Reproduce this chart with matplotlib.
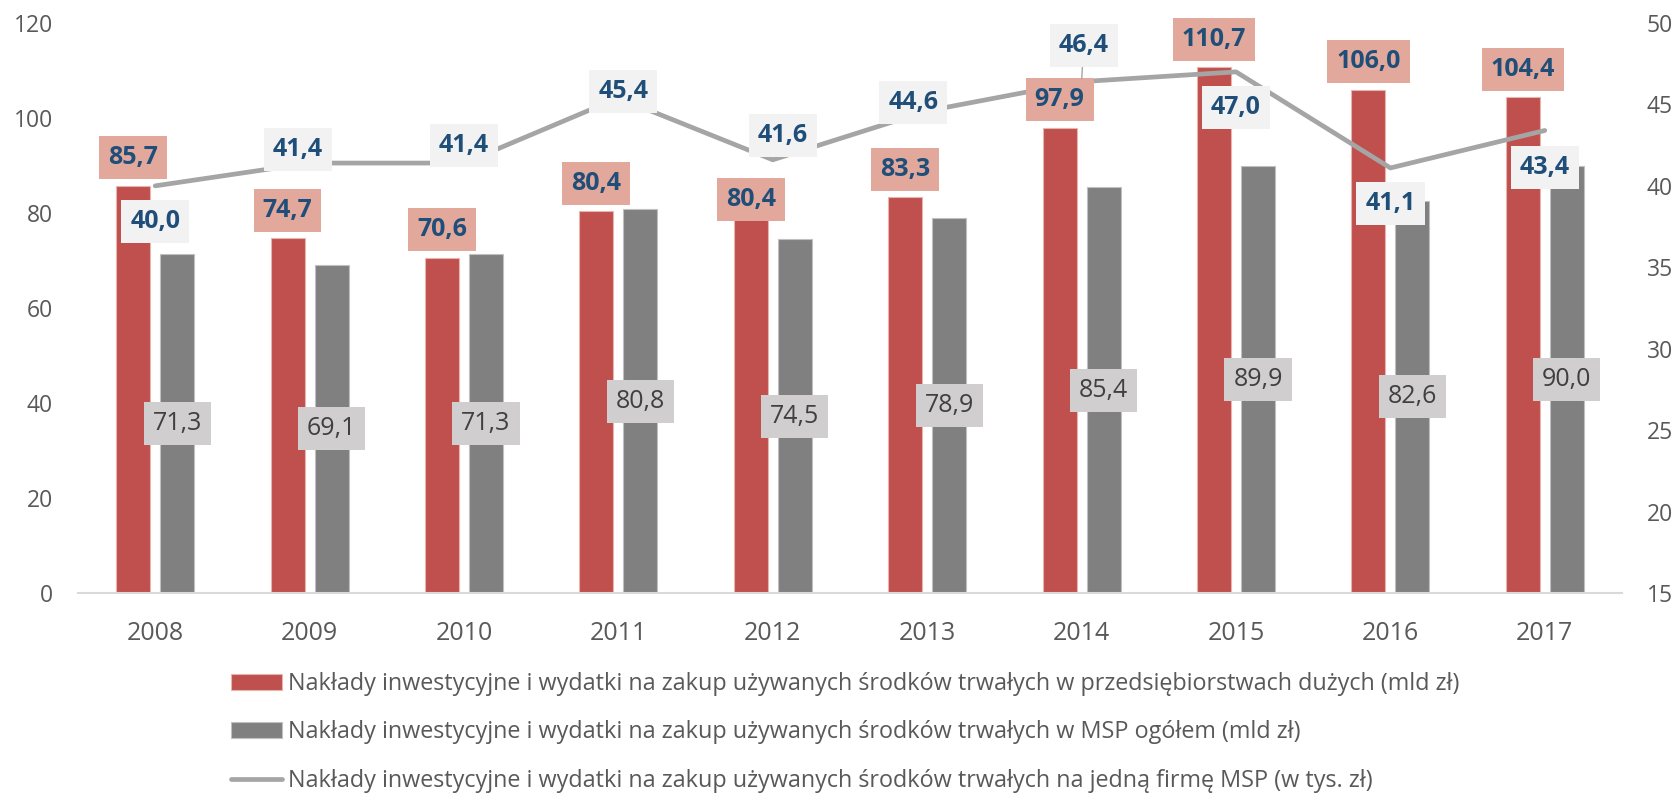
import matplotlib
matplotlib.use("Agg")
import matplotlib.pyplot as plt
import numpy as np

plt.rcParams['font.family'] = ['Open Sans', 'DejaVu Sans']

# dane (mld zł / tys. zł)
lata = ['2008', '2009', '2010', '2011', '2012', '2013', '2014', '2015', '2016', '2017']
duze = [85.7, 74.7, 70.6, 80.4, 80.4, 83.3, 97.9, 110.7, 106.0, 104.4]
msp = [71.3, 69.1, 71.3, 80.8, 74.5, 78.9, 85.4, 89.9, 82.6, 90.0]
na_firme = [40.0, 41.4, 41.4, 45.4, 41.6, 44.6, 46.4, 47.0, 41.1, 43.4]

etykiety = [
    'Nakłady inwestycyjne i wydatki na zakup używanych środków trwałych w przedsiębiorstwach dużych (mld zł)',
    'Nakłady inwestycyjne i wydatki na zakup używanych środków trwałych w MSP ogółem (mld zł)',
    'Nakłady inwestycyjne i wydatki na zakup używanych środków trwałych na jedną firmę MSP (w tys. zł)',
]

# przesunięcia etykiet w pikselach (x w prawo, y w dół)
przes_linia = [(0, 36), (-12, -14), (0, -18), (5, -6), (10, -24),
               (-14, -8), (2, -36), (0, 36), (0, 36), (0, 37)]
przes_duze = [28, 28, 28, 28, 12, 28, 28, 28, 28, 28]

CZERWONY = '#C0504D'
SZARY = '#808080'
LINIA = '#A5A5A5'
NIEBIESKI = '#1F4E79'
TEKST = '#595959'


def fmt(v):
    return f"{v:.1f}".replace('.', ',')


fig = plt.figure(figsize=(16.78, 7.97), dpi=100)
ax = fig.add_axes([78 / 1678, 1 - 593 / 797, 1544 / 1678, 570 / 797])

x = np.arange(len(lata))
szer = 0.22
dx = 0.1425
b1 = ax.bar(x - dx, duze, szer, color=CZERWONY, edgecolor='#E8B4AE', linewidth=0.8)
b2 = ax.bar(x + dx, msp, szer, color=SZARY, edgecolor='#C0C0C0', linewidth=0.8)

ax.set_xlim(-0.5, len(lata) - 0.5)
ax.set_ylim(0, 120)
ax.set_yticks(range(0, 121, 20))
ax.set_xticks(x)
ax.set_xticklabels(lata)
for s in ['top', 'left', 'right']:
    ax.spines[s].set_visible(False)
ax.spines['bottom'].set_color('#D9D9D9')
ax.spines['bottom'].set_linewidth(1.5)
ax.tick_params(axis='y', length=0, colors=TEKST, labelsize=16.5, pad=18)
ax.tick_params(axis='x', length=0, colors=TEKST, labelsize=18, pad=20)

ax2 = ax.twinx()
ax2.set_ylim(15, 50)
ax2.set_yticks(range(15, 51, 5))
for s in ax2.spines.values():
    s.set_visible(False)
ax2.tick_params(axis='y', length=0, colors=TEKST, labelsize=16.5, pad=18)
ln, = ax2.plot(x, na_firme, color=LINIA, lw=3.4, solid_capstyle='round',
               solid_joinstyle='round', zorder=2)

ramka = 'square,pad=0.36'

# etykiety słupków dużych firm
for i, v in enumerate(duze):
    ax2.annotate(fmt(v), xy=(x[i] - dx, v), xycoords=ax.transData,
                 xytext=(0, przes_duze[i] * 0.72), textcoords='offset points',
                 ha='center', va='center', fontsize=18, fontweight='bold', color=NIEBIESKI,
                 bbox=dict(boxstyle=ramka, fc='#E2A89C', ec='none'), zorder=3)

# etykiety słupków MSP
for i, v in enumerate(msp):
    ax.annotate(fmt(v), xy=(x[i] + dx, v / 2), ha='center', va='center',
                fontsize=18, color='#404040',
                bbox=dict(boxstyle=ramka, fc='#D0CECE', ec='none'), zorder=3)

# etykiety linii
for i, v in enumerate(na_firme):
    ox, oy = przes_linia[i]
    strz = None
    if i == 6:
        strz = dict(arrowstyle='-', color=LINIA, lw=1, shrinkA=0, shrinkB=2)
    ax2.annotate(fmt(v), xy=(x[i], v), xytext=(ox * 0.72, -oy * 0.72),
                 textcoords='offset points', ha='center', va='center',
                 fontsize=18, fontweight='bold', color=NIEBIESKI, arrowprops=strz,
                 bbox=dict(boxstyle=ramka, fc='#F2F2F2', ec='none'), zorder=4)

fig.legend([b1, b2, ln], etykiety, loc='upper left',
           bbox_to_anchor=(231 / 1678, 1 - 672 / 797), frameon=False,
           fontsize=16.8, handlelength=2.2, handleheight=0.64, handletextpad=0.25,
           labelspacing=1.04, borderpad=0, borderaxespad=0, labelcolor=TEKST)

fig.savefig('out.png', dpi=100)
